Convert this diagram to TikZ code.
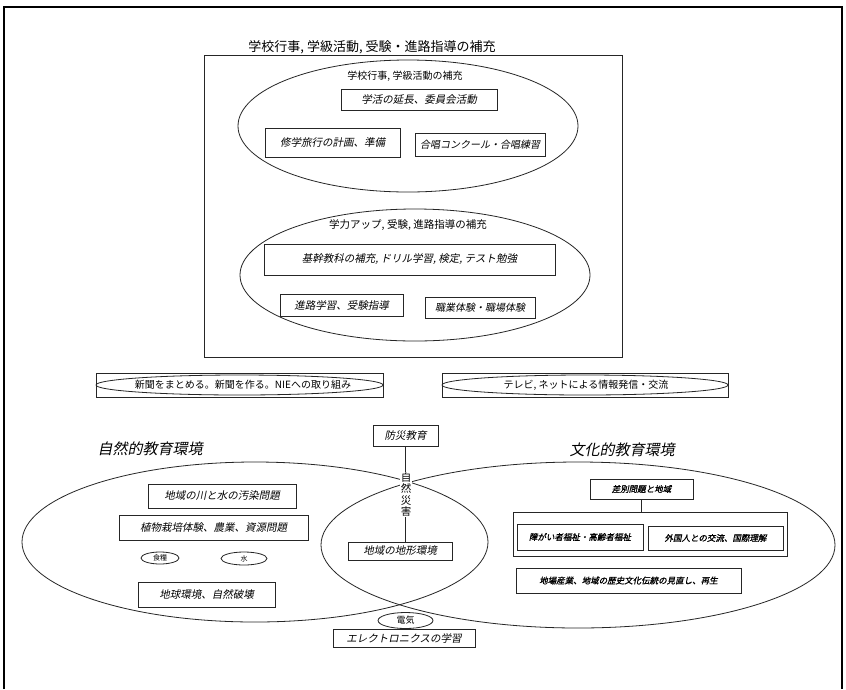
\documentclass[tikz,border=0pt]{standalone}
\usepackage{fontspec}
\newfontfamily\jp{Noto Sans CJK JP}
\newfontfamily\jpit{Noto Sans CJK JP}[FakeSlant=0.2]
\newfontfamily\jpitb{Noto Sans CJK JP}[FakeSlant=0.2,FakeBold=1.2]
\usetikzlibrary{shapes.geometric}
\newcommand\myfs[1]{\fontsize{#1}{#1}\selectfont}
\tikzset{
 ln/.style={line width=0.8pt, draw=black!85},
 sz/.style 2 args={minimum width=#1pt, minimum height=#2pt},
 bx/.style={ln, rectangle, inner sep=0pt, font=\jpit\myfs{10.5}},
 sbx/.style={bx, font=\jpitb\myfs{8.5}},
 el/.style={ln, ellipse, inner sep=0pt},
 lab/.style={inner sep=0pt, font=\jp\myfs{10.5}},
 big/.style={inner sep=0pt, font=\jpit\myfs{15}},
}
\begin{document}
\begin{tikzpicture}[x=1pt,y=-1pt]
\useasboundingbox (0,0) rectangle (846,689);
\fill[white] (0,0) rectangle (846,689);
\draw[line width=1.5pt] (4,689) -- (4,7) -- (842,7) -- (842,689);

% ---- top section
\node (title) [lab, font=\jp\myfs{13}] at (372,47) {学校行事, 学級活動, 受験・進路指導の補充};
\node (topframe) [ln, rectangle, sz={418}{302}] at (413,206) {};

\node (e1) [el, sz={340}{132}] at (408,126) {};
\node (l1) [lab, font=\jp\myfs{10}] at (405,76) {学校行事, 学級活動の補充};
\node (b1) [bx, sz={156}{21}] at (419,100) {学活の延長、委員会活動};
\node (b2) [bx, sz={135}{29}] at (332.5,142.5) {修学旅行の計画、準備};
\node (b3) [bx, sz={130}{23}, font=\jpit\myfs{10}] at (480,144.5) {合唱コンクール・合唱練習};

\node (e2) [el, sz={350}{132}] at (415,275) {};
\node (l2) [lab, font=\jp\myfs{10.5}] at (408,225) {学力アップ, 受験, 進路指導の補充};
\node (b4) [bx, sz={291}{31}] at (409.5,259.5) {基幹教科の補充, ドリル学習, 検定, テスト勉強};
\node (b5) [bx, sz={123}{22}] at (341.5,305) {進路学習、受験指導};
\node (b6) [bx, sz={110}{21}, font=\jpit\myfs{10}] at (480,307.5) {職業体験・職場体験};

% ---- bands
\node (band1r) [ln, rectangle, sz={287}{24}] at (239.5,385) {};
\node (band1e) [el, sz={287}{20}] at (239.5,385) {};
\node (band1t) [lab, font=\jp\myfs{10}] at (243,385) {新聞をまとめる。新聞を作る。NIEへの取り組み};
\node (band2r) [ln, rectangle, sz={286}{24}] at (585,385) {};
\node (band2e) [el, sz={286}{20}] at (585,385) {};
\node (band2t) [lab, font=\jp\myfs{10}] at (586,385) {テレビ, ネットによる情報発信・交流};

% ---- bottom big ellipses
\node (L) [el, sz={466}{160}] at (255,542) {};
\node (R) [el, sz={514}{166}] at (578,545) {};

\node (Lt) [big] at (150,449) {自然的教育環境};
\node (Rt) [big] at (622,450) {文化的教育環境};

% left content
\node (bL1) [bx, sz={148}{24}] at (222,496) {地域の川と水の汚染問題};
\node (bL2) [bx, sz={189}{25}] at (213.5,527.5) {植物栽培体験、農業、資源問題};
\node (eL1) [el, sz={38}{12}, font=\jp\myfs{7}] at (160,558) {食糧};
\node (eL2) [el, sz={46}{13}, font=\jp\myfs{7}] at (244,558.5) {水};
\node (bL3) [bx, sz={137}{25}] at (206.5,594.5) {地球環境、自然破壊};

% middle
\node (bM1) [bx, sz={65}{21}] at (405.5,435.5) {防災教育};
\node (bM2) [bx, sz={104}{18}] at (400,551) {地域の地形環境};
\draw[ln] (bM1.south) -- (bM1.south |- bM2.north);
\node (sai) [fill=white, inner sep=0.5pt, align=center, font=\jp\fontsize{10.5}{11.3}\selectfont] at (406,494.5) {自\\然\\災\\害};
\node (eM) [el, sz={55}{16}, fill=white, font=\jp\myfs{9}] at (405.5,620.5) {電気};
\node (bM3) [bx, sz={142}{18}] at (404,638) {エレクトロニクスの学習};

% right content
\node (bR1) [sbx, sz={103}{20}] at (641.5,489) {差別問題と地域};
\node (bR2) [ln, rectangle, sz={274}{44}] at (650,534) {};
\draw[ln] (bR1.south) -- (bR1.south |- bR2.north);
\node (bR3) [sbx, sz={126}{26}] at (580,537) {障がい者福祉・高齢者福祉};
\node (bR4) [sbx, sz={135}{24}] at (715.5,538) {外国人との交流、国際理解};
\node (bR5) [sbx, sz={225}{25}] at (628.5,580.5) {地場産業、地域の歴史文化伝統の見直し、再生};
\end{tikzpicture}
\end{document}
